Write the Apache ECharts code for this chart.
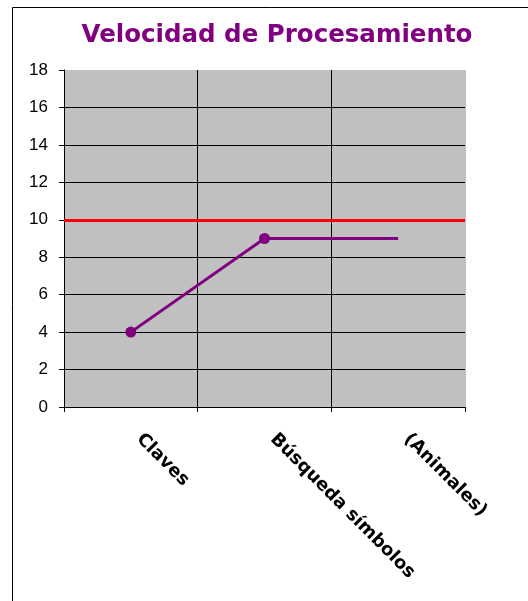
<!DOCTYPE html>
<html>
<head>
<meta charset="utf-8">
<script src="https://cdn.jsdelivr.net/npm/echarts@6/dist/echarts.min.js"></script>
<style>
  html, body { margin: 0; padding: 0; background: #fff; }
  #chart { width: 528px; height: 601px; }
</style>
</head>
<body>
<div id="chart"></div>
<script>
const categories = ['Claves', 'Búsqueda símbolos', '(Animales)'];
const scores = [4, 9, 9];
const reference = 10;
const yTicks = { min: 0, max: 18, interval: 2 };

const chart = echarts.init(document.getElementById('chart'));

// last point has no marker in the original
const lineData = scores.map((v, i) =>
  i === scores.length - 1 ? { value: v, symbol: 'none' } : v
);

const option = {
  animation: false,
  backgroundColor: '#fff',
  textStyle: { fontFamily: '"Liberation Sans", Arial, sans-serif' },
  title: {
    text: 'Velocidad de Procesamiento',
    left: 272,
    textAlign: 'center',
    top: 18,
    textStyle: {
      color: '#800080',
      fontWeight: 'bold',
      fontSize: 24.5,
      fontFamily: '"DejaVu Sans", sans-serif'
    }
  },
  graphic: [{
    type: 'rect',
    shape: { x: 12.5, y: 7.5, width: 700, height: 700 },
    style: { fill: 'none', stroke: '#000', lineWidth: 1 },
    silent: true
  }],
  grid: {
    left: 64,
    right: 63,
    top: 70,
    bottom: 194,
    show: true,
    backgroundColor: '#c0c0c0',
    borderWidth: 0
  },
  xAxis: {
    type: 'category',
    data: categories,
    boundaryGap: true,
    axisLine: { lineStyle: { color: '#000', width: 1 } },
    axisTick: { show: true, length: 5, lineStyle: { color: '#000' } },
    axisLabel: {
      rotate: -45,
      margin: 21,
      padding: [0, 0, 25, 12],
      color: '#000',
      fontSize: 18,
      fontWeight: 'bold',
      fontFamily: '"DejaVu Sans", sans-serif',
      interval: 0
    },
    splitLine: {
      show: true,
      lineStyle: { color: ['#000', '#000', '#000', '#c0c0c0'], width: 1 }
    }
  },
  yAxis: {
    type: 'value',
    min: yTicks.min,
    max: yTicks.max,
    interval: yTicks.interval,
    axisLine: { show: true, lineStyle: { color: '#000', width: 1 } },
    axisTick: { show: true, length: 5, lineStyle: { color: '#000' } },
    axisLabel: { color: '#000', fontSize: 17, margin: 16 },
    splitLine: {
      show: true,
      lineStyle: {
        color: ['#000', '#000', '#000', '#000', '#000', '#000', '#000', '#000', '#000', '#c0c0c0'],
        width: 1
      }
    }
  },
  series: [{
    type: 'line',
    data: lineData,
    symbol: 'circle',
    symbolSize: 11,
    lineStyle: { color: '#800080', width: 3 },
    itemStyle: { color: '#800080' },
    markLine: {
      silent: true,
      symbol: 'none',
      label: { show: false },
      lineStyle: { color: '#ff0000', width: 3, type: 'solid' },
      data: [{ yAxis: reference }]
    }
  }]
};

chart.setOption(option);
</script>
</body>
</html>
